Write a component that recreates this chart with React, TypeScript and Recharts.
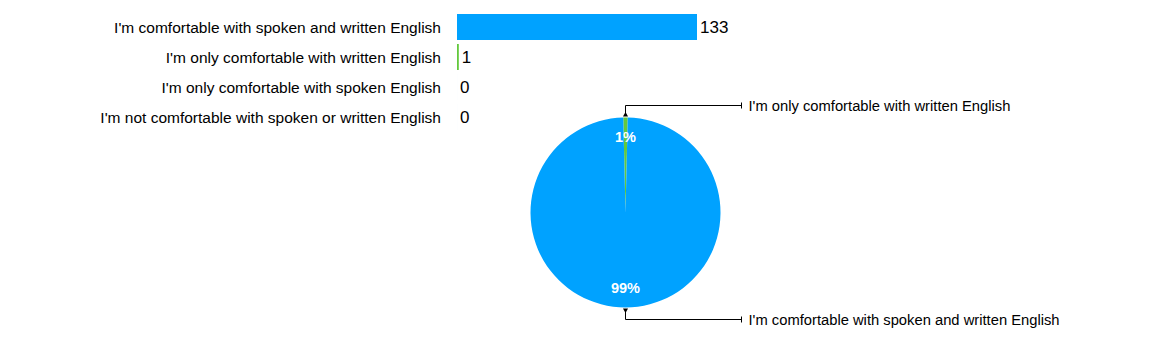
import React from "react";
import { BarChart, Bar, XAxis, YAxis, Cell, LabelList, PieChart, Pie } from "recharts";

const answers = [
  "I'm comfortable with spoken and written English",
  "I'm only comfortable with written English",
  "I'm only comfortable with spoken English",
  "I'm not comfortable with spoken or written English",
];
const counts = [133, 1, 0, 0];
const colors = ["#00a2ff", "#63c93d", "#00a2ff", "#00a2ff"];

const barData = answers.map((name, i) => ({ name, count: counts[i] }));

// pie only shows answers that got responses, written-only slice first so it sits on top
const pieOrder = [1, 0];
const pieData = pieOrder.map((i) => ({ name: answers[i], value: counts[i], color: colors[i] }));
const pieTotal = pieData.reduce((s, d) => s + d.value, 0);
const firstSweep = (pieData[0].value / pieTotal) * 360;
const startAngle = 90 + firstSweep / 2;

const RADIAN = Math.PI / 180;
const font = "'Liberation Sans', Arial, Helvetica, sans-serif";

const renderPieLabel = (props: any) => {
  const { cx, cy, midAngle, outerRadius, percent, name } = props;
  const sin = Math.sin(-midAngle * RADIAN);
  const cos = Math.cos(-midAngle * RADIAN);
  const r = outerRadius * 0.79;
  const ix = cx + r * cos;
  const iy = cy + r * sin;
  const dir = sin < 0 ? -1 : 1;
  const tipY = cy + dir * (outerRadius + 5.5);
  const lineY = cy + dir * (outerRadius + 12);
  const endX = cx + 116;
  return (
    <g>
      <text
        x={ix}
        y={iy}
        fill="#fff"
        fontSize={14.5}
        fontWeight="bold"
        fontFamily={font}
        textAnchor="middle"
        dominantBaseline="central">
        {`${Math.round(percent * 100)}%`}
      </text>
      <path d={`M${cx},${lineY}L${endX},${lineY}`} stroke="#000" strokeWidth={1} fill="none" />
      <path d={`M${cx},${lineY}L${cx},${tipY - dir * 4}`} stroke="#000" strokeWidth={1} fill="none" />
      <path
        d={`M${cx},${tipY}L${cx - 2.5},${tipY - dir * 4.5}L${cx + 2.5},${tipY - dir * 4.5}Z`}
        fill="#000"
      />
      <path d={`M${endX},${lineY - 3}L${endX},${lineY + 3}`} stroke="#000" strokeWidth={1} />
      <text
        x={endX + 7}
        y={lineY}
        fill="#000"
        fontSize={14.75}
        fontFamily={font}
        dominantBaseline="central">
        {name}
      </text>
    </g>
  );
};

export default function App() {
  return (
    <div
      style={{
        position: "absolute",
        left: 0,
        top: 0,
        width: 1152,
        height: 358,
        background: "#fff",
        fontFamily: font,
      }}>
      <div style={{ position: "absolute", left: 0, top: 0 }}>
        <BarChart
          width={1152}
          height={140}
          data={barData}
          layout="vertical"
          margin={{ top: 12, right: 455, left: 0, bottom: 8 }}>
          <XAxis type="number" hide domain={[0, "dataMax"]} />
          <YAxis
            type="category"
            dataKey="name"
            width={457}
            axisLine={false}
            tickLine={false}
            tickMargin={10}
            tick={{ fill: "#000", fontSize: 15.5, fontFamily: font }}
          />
          {/* tiny min size keeps zero rows in the label list */}
          <Bar
            dataKey="count"
            barSize={26}
            minPointSize={(v: any) => (v === 0 ? 0.01 : 0)}
            isAnimationActive={false}>
            {barData.map((d, i) => (
              <Cell key={d.name} fill={colors[i]} />
            ))}
            <LabelList
              dataKey="count"
              position="right"
              offset={3}
              fill="#000"
              fontSize={17}
              fontFamily={font}
            />
          </Bar>
        </BarChart>
      </div>
      <div style={{ position: "absolute", left: 0, top: 0 }}>
        <PieChart width={1152} height={358} margin={{ top: 0, right: 0, bottom: 0, left: 0 }}>
          <Pie
            data={pieData}
            dataKey="value"
            nameKey="name"
            cx={625.5}
            cy={212.5}
            outerRadius={95}
            startAngle={startAngle}
            endAngle={startAngle - 360}
            stroke="none"
            label={renderPieLabel}
            labelLine={false}
            isAnimationActive={false}>
            {pieData.map((d) => (
              <Cell key={d.name} fill={d.color} />
            ))}
          </Pie>
        </PieChart>
      </div>
    </div>
  );
}
